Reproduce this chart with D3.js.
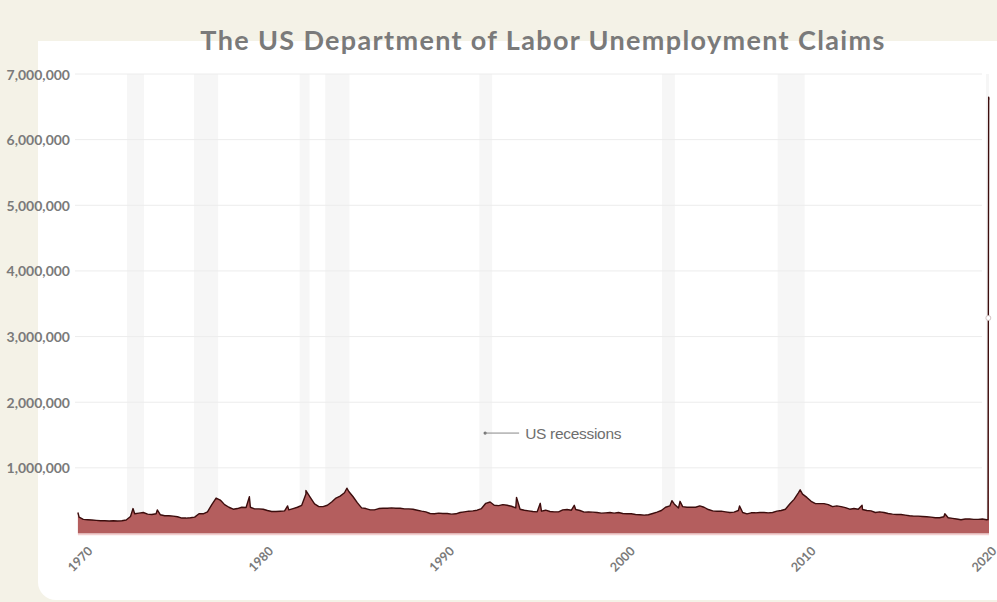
<!DOCTYPE html>
<html><head><meta charset="utf-8">
<script src="https://cdn.jsdelivr.net/npm/d3@7"></script>
<style>
html,body{margin:0;padding:0;background:#f4f2e7;}
svg{display:block;}
</style></head><body>
<svg id="chart" width="997" height="602"></svg>
<script>
// ---- data (claims in thousands) ----
const startYear = 1967;
const quarterlyClaims = [
  250,215,210,205, 200,195,195,190, 195,190,195,205, 260,300,310,320,
  295,290,300,285, 270,270,265,255, 235,235,240,250, 300,300,330,440,
  540,510,440,400, 370,380,400,395, 400,375,375,370, 350,335,335,340,
  345,360,380,400, 430,600,550,450, 410,410,430,480, 540,570,620,640,
  560,470,390,380, 360,360,380,385, 385,390,385,385, 375,375,370,355,
  340,330,305,300, 310,305,305,295, 300,320,330,340, 345,355,380,460,
  480,430,425,440, 430,415,390,370, 355,345,335,330, 340,355,335,330,
  330,360,365,355, 365,350,325,330, 325,320,310,315, 320,310,320,305,
  300,300,290,285, 280,285,305,325, 350,400,420,450, 390,410,400,400,
  400,420,400,365, 345,340,340,330, 320,325,350,320, 300,315,315,320,
  320,315,320,340, 350,370,450,520, 620,600,550,490, 455,455,455,440,
  410,420,410,395, 370,380,370,365, 350,345,320,330, 320,305,295,290,
  290,280,270,265, 265,260,255,250, 240,240,255,240, 230,220,210,220,
  220,215,215,220
];
const spikeDates  = ["1967-01-20","1970-04-10","1971-09-10","1977-01-25","1979-04-20","1980-05-15","1982-10-05","1992-09-01","1994-01-20","1996-01-15","2001-09-28","2002-03-20","2005-09-10","2009-03-25","2012-11-05","2017-09-05"];
const spikeValues = [320, 380, 360, 560, 420, 655, 690, 550, 460, 430, 500, 490, 420, 665, 430, 300];
const covidDates  = ["2020-02-15","2020-03-14","2020-03-21","2020-03-28","2020-04-04"];
const covidValues = [210, 211, 3283, 6648, 6606];
const recessionStarts = ["1969-12-01","1973-11-01","1980-01-01","1981-07-01","1990-07-01","2001-03-01","2007-12-01","2020-02-01"];
const recessionEnds   = ["1970-11-30","1975-03-31","1980-07-31","1982-11-30","1991-03-31","2001-11-30","2009-06-30","2020-04-04"];
const yTickValues = [1000000,2000000,3000000,4000000,5000000,6000000,7000000];
const xTickLabels = ["1970","1980","1990","2000","2010","2020"];
const chartTitle = "The US Department of Labor Unemployment Claims";
const annotationText = "US recessions";
const annotationDate = "1990-11-01";
const annotationValue = 1530000;

// ---- build series ----
const parse = d3.timeParse("%Y-%m-%d");
let series = quarterlyClaims.map((v,i) => ({
  date: new Date(startYear + Math.floor(i/4), (i%4)*3 + 1, 15),
  value: v*1000
}));
spikeDates.forEach((d,i) => series.push({date: parse(d), value: spikeValues[i]*1000}));
covidDates.forEach((d,i) => series.push({date: parse(d), value: covidValues[i]*1000}));
series.sort((a,b) => a.date - b.date);
const recessions = recessionStarts.map((s,i) => ({start: parse(s), end: parse(recessionEnds[i])}));

// ---- scales ----
const svg = d3.select("#chart");
const x = d3.scaleTime().domain([new Date(1967,0,1), parse("2020-04-04")]).range([77, 989]);
const y = d3.scaleLinear().domain([0, 7000000]).range([533.5, 74]);
const xLab = d3.scalePoint().domain(xTickLabels).range([80, 984]);

// background + panel
svg.append("rect").attr("width",997).attr("height",602).attr("fill","#f4f2e7");
svg.append("path").attr("d","M38,41 H1010 V600 H56 A18,18 0 0 1 38,582 Z").attr("fill","#ffffff");

// recession bands
svg.append("g").selectAll("rect").data(recessions).join("rect")
  .attr("x", d => x(d.start)).attr("width", d => Math.max(2, x(d.end)-x(d.start)))
  .attr("y", y(7000000)).attr("height", y(0)-y(7000000))
  .attr("fill","#f6f6f6");

// gridlines
svg.append("g").selectAll("line").data(yTickValues).join("line")
  .attr("x1",75).attr("x2",982).attr("y1",d=>y(d)).attr("y2",d=>y(d))
  .attr("stroke","#ececec").attr("stroke-width",1);

// y labels
svg.append("g").selectAll("text").data(yTickValues).join("text")
  .attr("x",70).attr("y",d=>y(d)).attr("text-anchor","end").attr("dominant-baseline","central")
  .attr("font-family","Lato, sans-serif").attr("font-weight",700).attr("font-size",14)
  .attr("fill","#7a7a7a").text(d3.format(","));

// area + line
const area = d3.area().x(d=>x(d.date)).y0(y(0)).y1(d=>y(d.value));
const line = d3.line().x(d=>x(d.date)).y(d=>y(d.value));
svg.append("path").datum(series).attr("d",area).attr("fill","#b45e5e");
svg.append("line").attr("x1",x(series[0].date)).attr("x2",x(series[series.length-1].date))
  .attr("y1",y(0)+1).attr("y2",y(0)+1).attr("stroke","#f4cfcf").attr("stroke-width",1.5);
svg.append("path").datum(series).attr("d",line).attr("fill","none")
  .attr("stroke","#3c0d0d").attr("stroke-width",1.4).attr("stroke-linejoin","round");

// marker at 3.28M
svg.append("circle").attr("cx",x(parse(covidDates[2]))).attr("cy",y(covidValues[2]*1000))
  .attr("r",2.5).attr("fill","#ffffff").attr("stroke","#c9b6b6").attr("stroke-width",0.8);

// x labels
svg.append("g").selectAll("text").data(xTickLabels).join("text")
  .attr("transform",d=>`translate(${xLab(d)},559) rotate(-45)`)
  .attr("text-anchor","middle").attr("dominant-baseline","central")
  .attr("font-family","Lato, sans-serif").attr("font-weight",700).attr("font-size",12.5)
  .attr("fill","#7a7a7a").text(d=>d);

// title
svg.append("text").attr("x",543).attr("y",50).attr("text-anchor","middle")
  .attr("font-family","Lato, sans-serif").attr("font-weight",700).attr("font-size",27)
  .attr("letter-spacing",1.35)
  .attr("fill","#7a7a7a").text(chartTitle);

// annotation
const ax = x(parse(annotationDate)), ay = y(annotationValue);
svg.append("circle").attr("cx",ax).attr("cy",ay).attr("r",1.6).attr("fill","#777");
svg.append("line").attr("x1",ax).attr("x2",ax+34).attr("y1",ay).attr("y2",ay).attr("stroke","#888").attr("stroke-width",1);
svg.append("text").attr("x",ax+40).attr("y",ay).attr("dominant-baseline","central")
  .attr("font-family","Liberation Sans, Arial, sans-serif").attr("font-size",15.5)
  .attr("fill","#6e6e6e").attr("letter-spacing",-0.3).text(annotationText);
</script>
</body></html>
